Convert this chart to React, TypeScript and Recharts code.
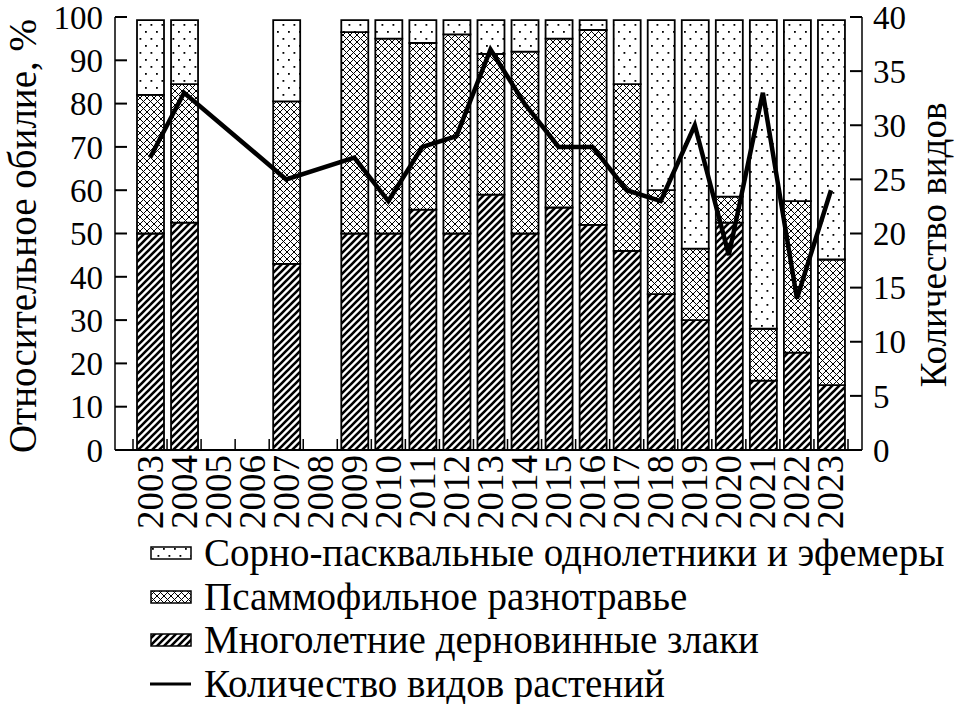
import { ComposedChart, Bar, Line, XAxis, YAxis } from "recharts";

const FONT = "Liberation Serif, Tinos, Times New Roman, Times, DejaVu Serif, Noto Serif, serif";

const years = [
    "2003", "2004", "2005", "2006", "2007", "2008", "2009", "2010", "2011", "2012", "2013",
    "2014", "2015", "2016", "2017", "2018", "2019", "2020", "2021", "2022", "2023",
];
// Многолетние дерновинные злаки, %
const perennialGrasses = [50, 52.5, null, null, 43, null, 50, 50, 55.5, 50, 59, 50, 56, 52, 46, 36, 30, 52.5, 16, 22.5, 15];
// Псаммофильное разнотравье, %
const psammophyteForbs = [32, 32, null, null, 37.5, null, 46.5, 45, 38.5, 46, 32.5, 42, 39, 45, 38.5, 24, 16.5, 6, 12, 35, 29];
// Сорно-пасквальные однолетники и эфемеры, %
const weedyAnnuals = [17.3, 14.8, null, null, 18.8, null, 2.8, 4.3, 5.3, 3.3, 7.8, 7.3, 4.3, 2.3, 14.8, 39.3, 52.8, 40.8, 71.3, 41.8, 55.3];
// Количество видов растений
const speciesCount = [27, 33, null, null, 25, null, 27, 23, 28, 29, 37, 32, 28, 28, 24, 23, 30, 18, 33, 14, 24];

const pctTicks = [0, 10, 20, 30, 40, 50, 60, 70, 80, 90, 100];
const countTicks = [0, 5, 10, 15, 20, 25, 30, 35, 40];

const data = years.map((year, i) => ({
    year,
    grasses: perennialGrasses[i],
    forbs: psammophyteForbs[i],
    annuals: weedyAnnuals[i],
    species: speciesCount[i],
}));

const legendItems = [
    { label: "Сорно-пасквальные однолетники и эфемеры", fill: "dots" },
    { label: "Псаммофильное разнотравье", fill: "cross" },
    { label: "Многолетние дерновинные злаки", fill: "hatch" },
    { label: "Количество видов растений", fill: "line" },
];

function Patterns({ prefix }: { prefix: string }) {
    return (
        <defs>
            <pattern id={prefix + "dots"} width="11" height="14" patternUnits="userSpaceOnUse">
                <rect width="11" height="14" fill="#fff" />
                <rect x="2" y="3" width="1.8" height="1.8" fill="#000" />
                <rect x="7.5" y="10" width="1.8" height="1.8" fill="#000" />
            </pattern>
            <pattern id={prefix + "cross"} width="7" height="7" patternUnits="userSpaceOnUse">
                <rect width="7" height="7" fill="#fff" />
                <path d="M0,0 L7,7 M7,0 L0,7" stroke="#000" strokeWidth="1" />
            </pattern>
            <pattern id={prefix + "hatch"} width="7" height="7" patternUnits="userSpaceOnUse">
                <rect width="7" height="7" fill="#fff" />
                <path d="M-1,1 L1,-1 M0,7 L7,0 M6,8 L8,6" stroke="#000" strokeWidth="2.6" />
            </pattern>
        </defs>
    );
}

function YearTick({ x, y, payload, index }: any) {
    const half = payload.offset || 17;
    const axisY = y - 5;
    return (
        <g>
            <line x1={x - half} x2={x - half} y1={axisY} y2={axisY - 11} stroke="#000" strokeWidth={1.5} />
            {index === years.length - 1 && (
                <line x1={x + half} x2={x + half} y1={axisY} y2={axisY - 11} stroke="#000" strokeWidth={1.5} />
            )}
            <text
                transform={`translate(${x},${y}) rotate(-90)`}
                textAnchor="end"
                dominantBaseline="central"
                fontSize={37}
                fontFamily={FONT}
                fill="#000"
            >
                {payload.value}
            </text>
        </g>
    );
}

const axisTitle = (text: string, cx: number, cy: number, size: number) => () => (
    <text
        transform={`translate(${cx},${cy}) rotate(-90)`}
        textAnchor="middle"
        dominantBaseline="central"
        fontSize={size}
        fontFamily={FONT}
        fill="#000"
    >
        {text}
    </text>
);

export default function App() {
    return (
        <div style={{ position: "absolute", left: 0, top: 0, width: 971, height: 704, background: "#fff", overflow: "hidden" }}>
            <ComposedChart width={971} height={704} data={data} margin={{ top: 17, right: 0, bottom: 164, left: 0 }}>
                <Patterns prefix="c-" />
                <XAxis
                    dataKey="year"
                    height={90}
                    padding={{ left: 18, right: 14 }}
                    axisLine={{ stroke: "#000", strokeWidth: 2 }}
                    tickLine={false}
                    tickSize={0}
                    tickMargin={5}
                    interval={0}
                    tick={<YearTick />}
                />
                <YAxis
                    yAxisId="pct"
                    domain={[0, 100]}
                    ticks={pctTicks}
                    interval={0}
                    width={115}
                    tickSize={-12}
                    tickMargin={24}
                    axisLine={{ stroke: "#000", strokeWidth: 1.5 }}
                    tickLine={{ stroke: "#000", strokeWidth: 2 }}
                    tick={{ fill: "#000", fontSize: 33, fontFamily: FONT }}
                    label={{ content: axisTitle("Относительное обилие, %", 22, 236, 39) }}
                />
                <YAxis
                    yAxisId="cnt"
                    orientation="right"
                    domain={[0, 40]}
                    ticks={countTicks}
                    interval={0}
                    width={109}
                    tickSize={-12}
                    tickMargin={23}
                    axisLine={{ stroke: "#000", strokeWidth: 1.5 }}
                    tickLine={{ stroke: "#000", strokeWidth: 2 }}
                    tick={{ fill: "#000", fontSize: 33, fontFamily: FONT, textAnchor: "start" }}
                    label={{ content: axisTitle("Количество видов", 933, 245, 37) }}
                />
                <Bar yAxisId="pct" dataKey="grasses" stackId="a" barSize={27} fill="url(#c-hatch)" stroke="#000" strokeWidth={1.8} isAnimationActive={false} />
                <Bar yAxisId="pct" dataKey="forbs" stackId="a" barSize={27} fill="url(#c-cross)" stroke="#000" strokeWidth={1.8} isAnimationActive={false} />
                <Bar yAxisId="pct" dataKey="annuals" stackId="a" barSize={27} fill="url(#c-dots)" stroke="#000" strokeWidth={1.8} isAnimationActive={false} />
                <Line yAxisId="cnt" dataKey="species" type="linear" stroke="#000" strokeWidth={4.5} dot={false} connectNulls isAnimationActive={false} />
            </ComposedChart>
            <svg width={0} height={0} style={{ position: "absolute" }}>
                <Patterns prefix="l-" />
            </svg>
            {legendItems.map((item, i) => (
                <div key={item.label} style={{ position: "absolute", left: 150, top: 530 + i * 43.5, height: 46, display: "flex", alignItems: "center" }}>
                    <svg width={42} height={16} style={{ marginRight: 12 }}>
                        {item.fill === "line" ? (
                            <line x1={0} x2={41} y1={8} y2={8} stroke="#000" strokeWidth={3} />
                        ) : (
                            <rect x={1} y={2} width={40} height={12} fill={`url(#l-${item.fill})`} stroke="#000" strokeWidth={1.5} />
                        )}
                    </svg>
                    <span style={{ fontFamily: FONT, fontSize: 39, lineHeight: "46px", color: "#000", whiteSpace: "nowrap" }}>{item.label}</span>
                </div>
            ))}
        </div>
    );
}
